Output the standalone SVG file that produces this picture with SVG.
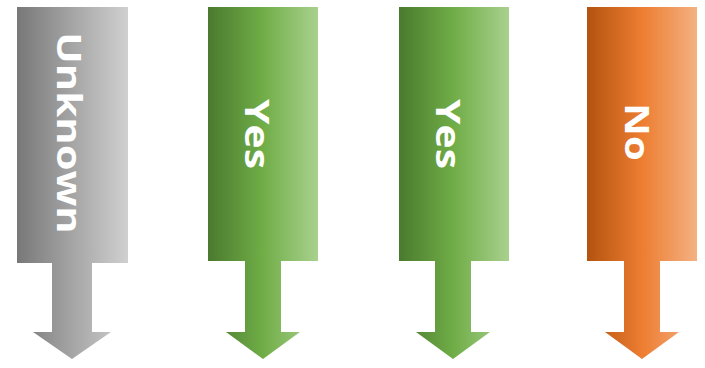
<svg xmlns="http://www.w3.org/2000/svg" width="705" height="368" viewBox="0 0 705 368">
<defs>
<linearGradient id="gGray" x1="0" y1="0" x2="1" y2="0">
<stop offset="0" stop-color="#787878"/><stop offset="0.5" stop-color="#a5a5a5"/><stop offset="1" stop-color="#d0d0d0"/>
</linearGradient>
<linearGradient id="gGreen" x1="0" y1="0" x2="1" y2="0">
<stop offset="0" stop-color="#4a7a2e"/><stop offset="0.5" stop-color="#70ad47"/><stop offset="1" stop-color="#a9d18e"/>
</linearGradient>
<linearGradient id="gOrange" x1="0" y1="0" x2="1" y2="0">
<stop offset="0" stop-color="#b3530f"/><stop offset="0.5" stop-color="#ed7d31"/><stop offset="1" stop-color="#f4b183"/>
</linearGradient>
</defs>
<style>
.lbl{font-family:"Open Sans","DejaVu Sans",sans-serif;font-weight:bold;font-size:34px;fill:#ffffff;text-anchor:middle}
</style>
<g id="node-unknown">
<path d="M17,7 H128 V263 H92 V332 H111 L72,359 L33,332 H52 V263 H17 Z" fill="url(#gGray)"/>
<text class="lbl" transform="translate(57,133) rotate(90) scale(1.23,1)">Unknown</text>
</g>
<g id="node-yes1">
<path d="M208,7 H318 V261 H281 V332 H300 L263,359 L226,332 H245 V261 H208 Z" fill="url(#gGreen)"/>
<text class="lbl" transform="translate(245,134) rotate(90) scale(1.2,1)">Yes</text>
</g>
<g id="node-yes2">
<path d="M399,7 H509 V261 H471 V332 H490 L453,359 L416,332 H435 V261 H399 Z" fill="url(#gGreen)"/>
<text class="lbl" transform="translate(436,134) rotate(90) scale(1.2,1)">Yes</text>
</g>
<g id="node-no">
<path d="M587,7 H697 V261 H660 V332 H679 L642,359 L605,332 H624 V261 H587 Z" fill="url(#gOrange)"/>
<text class="lbl" transform="translate(625,132) rotate(90) scale(1.18,1)">No</text>
</g>
<g id="connectors"></g>
</svg>
